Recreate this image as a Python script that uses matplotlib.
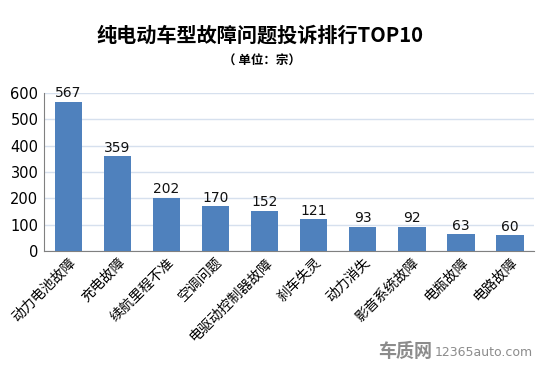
import matplotlib
matplotlib.use('Agg')
import matplotlib.pyplot as plt

plt.rcParams['font.family'] = ['DejaVu Sans', 'Noto Sans CJK SC']

categories = ['动力电池故障', '充电故障', '续航里程不准', '空调问题', '电驱动控制器故障',
              '刹车失灵', '动力消失', '影音系统故障', '电瓶故障', '电路故障']
counts = [567, 359, 202, 170, 152, 121, 93, 92, 63, 60]
yticks = [0, 100, 200, 300, 400, 500, 600]

cjk = ['Noto Sans CJK SC', 'DejaVu Sans']

fig = plt.figure(figsize=(5.5, 3.67), dpi=100)
ax = fig.add_axes([0.08, 0.316, 0.891, 0.431])

x = range(len(categories))
bars = ax.bar(x, counts, width=0.57, color='#4F81BD', zorder=3)
for xi, v in zip(x, counts):
    ax.text(xi, v + 6, str(v), ha='center', va='bottom', fontsize=10, color='#111111')

ax.set_xlim(-0.5, len(categories) - 0.5)
ax.set_ylim(0, 600)
ax.set_yticks(yticks)
ax.tick_params(axis='y', length=0, labelsize=10.5, pad=4)
ax.tick_params(axis='x', length=0, pad=3)
ax.set_xticks(list(x))
ax.set_xticklabels(categories, rotation=45, ha='right', rotation_mode='anchor',
                   family=cjk, fontsize=10)
ax.grid(axis='y', color='#D6E0EE', linewidth=1, zorder=0)
for s in ['top', 'right']:
    ax.spines[s].set_visible(False)
ax.spines['left'].set_color('#808080')
ax.spines['bottom'].set_color('#808080')

fig.text(0.473, 0.905, '纯电动车型故障问题投诉排行TOP10', ha='center', va='center',
         fontsize=14.5, fontweight='bold', family=cjk)
fig.text(0.476, 0.832, '（ 单位：宗）', ha='center', va='center',
         fontsize=9, fontweight='bold', family=cjk)
fig.text(0.785, 0.042, '车质网', ha='right', va='center', fontsize=13,
         fontweight='bold', color='#8c8c8c', family=cjk)
fig.text(0.79, 0.04, '12365auto.com', ha='left', va='center', fontsize=9,
         color='#8c8c8c')

fig.savefig('out.png', dpi=100, facecolor='white')
